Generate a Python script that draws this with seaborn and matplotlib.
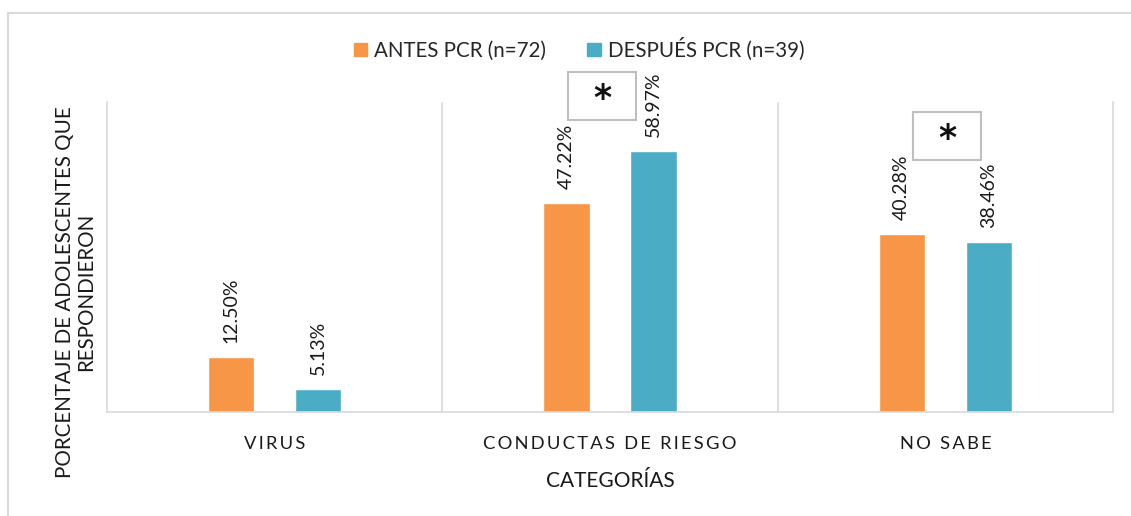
import matplotlib
matplotlib.use('Agg')
import matplotlib.pyplot as plt
from matplotlib.patches import Rectangle, Patch
import pandas as pd
import seaborn as sns

sns.set_theme(style='white')
plt.rcParams['font.family'] = ['Lato', 'DejaVu Sans']

# data
categorias = ['VIRUS', 'CONDUCTAS DE RIESGO', 'NO SABE']
antes_pct = [12.50, 47.22, 40.28]
despues_pct = [5.13, 58.97, 38.46]
series = ['ANTES PCR (n=72)', 'DESPUÉS PCR (n=39)']
colores = ['#F79646', '#4BACC6']
# categories marked as significant: (x shift, box centre in %)
significativas = {'CONDUCTAS DE RIESGO': (-0.024, 71.3),
                  'NO SABE': (0.006, 62.3)}

df = pd.DataFrame({
    'categoria': categorias * 2,
    'serie': [series[0]] * len(categorias) + [series[1]] * len(categorias),
    'pct': antes_pct + despues_pct,
})

fig = plt.figure(figsize=(11.31, 5.16), dpi=100)
ax = fig.add_axes([0.0946, 0.2016, 0.8895, 0.6007])

sns.barplot(data=df, x='categoria', y='pct', hue='serie', order=categorias,
            hue_order=series, palette=colores, width=0.52, gap=0.47,
            saturation=1, legend=False, ax=ax)

for cont in ax.containers:
    ax.bar_label(cont, fmt='{:.2f}%', rotation=90, padding=10,
                 fontsize=14, color='#1a1a1a')

ax.set_ylim(0, 70)
ax.set_xlim(-0.5, len(categorias) - 0.5)
ax.set_yticks([])

# category separators like the Excel original
for i in range(1, len(categorias)):
    ax.axvline(i - 0.5, color='#D9D9D9', lw=1.2, zorder=0)
for side in ['left', 'right', 'bottom']:
    ax.spines[side].set_color('#D9D9D9')
    ax.spines[side].set_linewidth(1.2)
ax.spines['top'].set_visible(False)

ax.set_xticks(range(len(categorias)))
ax.set_xticklabels(['\u2009'.join(c) for c in categorias], fontsize=13.2,
                   color='#1a1a1a')
ax.tick_params(axis='x', length=0, pad=17)
ax.set_xlabel('CATEGORÍAS', fontsize=15, labelpad=14, color='#1a1a1a')
ax.set_ylabel('')
fig.text(0.067, 0.434, 'PORCENTAJE DE ADOLESCENTES QUE\nRESPONDIERON',
         rotation=90, ha='center', va='center', fontsize=14.8,
         linespacing=1.05, color='#1a1a1a')

# boxes with asterisks for significant differences
for cat, (dx, y_box) in significativas.items():
    i = categorias.index(cat) + dx
    ax.add_patch(Rectangle((i - 0.101, y_box - 5.4), 0.202, 10.8,
                           fill=False, ec='#BFBFBF', lw=1.5,
                           clip_on=False))
    ax.text(i, y_box - 0.7, '*', ha='center', va='center', fontsize=25,
            fontweight='bold', color='#111111', family='DejaVu Sans')

handles = [Patch(color=c, label=s) for c, s in zip(colores, series)]
fig.legend(handles=handles, loc='center', bbox_to_anchor=(0.512, 0.905),
           ncol=2, frameon=False, fontsize=14.8, handlelength=0.65,
           handleheight=0.65, handletextpad=0.35, columnspacing=2.0)

# outer chart frame (cut off on the right and bottom in the original)
fig.add_artist(Rectangle((0.007, -0.2), 1.2, 1.175, transform=fig.transFigure,
                         fill=False, ec='#D9D9D9', lw=1.5))

fig.savefig('out.png', dpi=100)
